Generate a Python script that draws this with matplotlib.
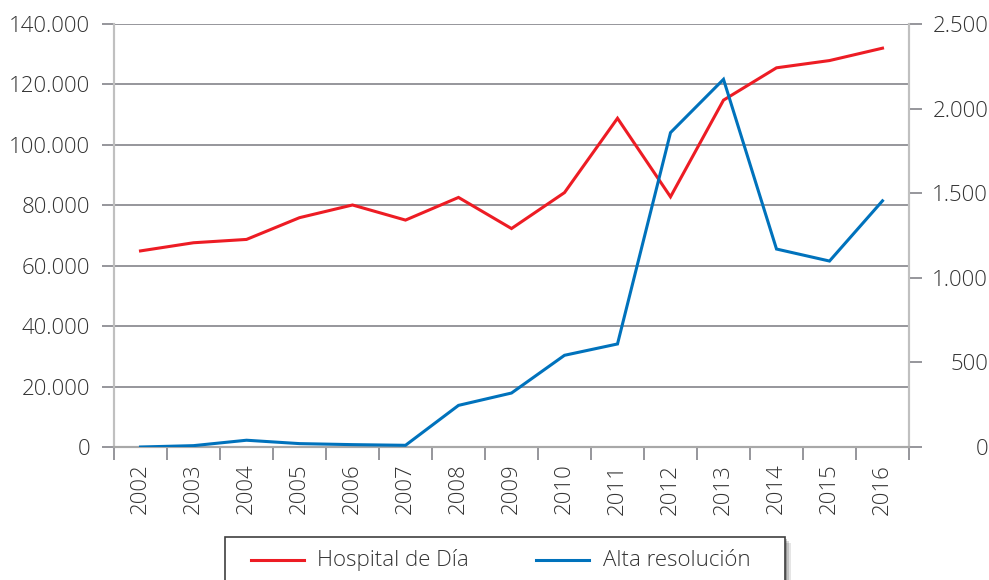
import matplotlib
matplotlib.use("Agg")
import matplotlib.pyplot as plt
from matplotlib.lines import Line2D
from matplotlib.patches import Rectangle
from matplotlib.ticker import FixedLocator, FuncFormatter, MultipleLocator

years = ["2002", "2003", "2004", "2005", "2006", "2007", "2008", "2009",
         "2010", "2011", "2012", "2013", "2014", "2015", "2016"]
hospital_dia = [64900, 67600, 68700, 75900, 80100, 75100, 82600, 72300,
                84200, 108800, 82800, 114800, 125500, 127900, 132000]
alta_resolucion = [0, 8, 40, 20, 14, 10, 246, 319,
                   542, 609, 1858, 2173, 1170, 1099, 1455]
series_names = ["Hospital de Día", "Alta resolución"]

RED = "#ED1C24"
BLUE = "#0072BC"
GRID = "#8E8E93"
SPINE = "#C0C0C0"
TEXT = "#333333"

plt.rcParams["font.family"] = ["Open Sans", "DejaVu Sans"]
plt.rcParams["font.weight"] = "light"
plt.rcParams["font.size"] = 16

W, H = 989, 580


def miles(v, _pos):
    return f"{v:,.0f}".replace(",", ".")


fig = plt.figure(figsize=(W / 100, H / 100), dpi=100)
ax = fig.add_axes([114 / W, 1 - 447 / H, 795 / W, 423 / H])
ax2 = ax.twinx()

x = list(range(len(years)))
ax.plot(x, hospital_dia, color=RED, linewidth=2.2, solid_joinstyle="miter", zorder=3)
ax2.plot(x, alta_resolucion, color=BLUE, linewidth=2.2, solid_joinstyle="miter", zorder=3)

ax.set_xlim(-0.5, len(years) - 0.5)
ax.set_ylim(0, 140000)
ax2.set_ylim(0, 2500)

# left axis
ax.yaxis.set_major_locator(MultipleLocator(20000))
ax.yaxis.set_major_formatter(FuncFormatter(miles))
ax.grid(axis="y", color=GRID, linewidth=1.3)
ax.set_axisbelow(True)
ax.tick_params(axis="y", length=9, width=1.3, color=GRID, pad=8, labelcolor=TEXT)

# right axis
ax2.yaxis.set_major_locator(MultipleLocator(500))
ax2.yaxis.set_major_formatter(FuncFormatter(miles))
ax2.tick_params(axis="y", length=9, width=1.3, color=GRID, pad=48, labelcolor=TEXT)
for lbl in ax2.get_yticklabels():
    lbl.set_horizontalalignment("right")

# x axis: ticks at category boundaries, labels at centres
ax.xaxis.set_major_locator(FixedLocator([i - 0.5 for i in range(len(years) + 1)]))
ax.xaxis.set_major_formatter(FuncFormatter(lambda v, p: ""))
ax.xaxis.set_minor_locator(FixedLocator(x))
ax.set_xticklabels(years, minor=True, rotation=90, color=TEXT)
ax.tick_params(axis="x", which="major", length=9, width=1.3, color=GRID)
ax.tick_params(axis="x", which="minor", length=0, pad=12)
for lbl in ax.get_xticklabels(minor=True):
    lbl.set_verticalalignment("top")

for a in (ax, ax2):
    a.spines["top"].set_visible(False)
    a.spines["left"].set_color(SPINE)
    a.spines["right"].set_color(SPINE)
    a.spines["bottom"].set_color("#A8A8A8")
    for s in a.spines.values():
        s.set_linewidth(1.5)

# legend box drawn by hand (wide, partly cut by the bottom edge)
def px(xp, yp):
    return xp / W, 1 - yp / H

bx0, by0 = px(225, 600)
bx1, by1 = px(785, 537)
for off, alpha in ((6, 0.10), (4, 0.15), (2, 0.22)):
    fig.add_artist(Rectangle((bx0 + off / W, by0 - off / H), bx1 - bx0, by1 - by0,
                             transform=fig.transFigure, facecolor="black",
                             edgecolor="none", alpha=alpha, zorder=4))
fig.add_artist(Rectangle((bx0, by0), bx1 - bx0, by1 - by0, transform=fig.transFigure,
                         facecolor="white", edgecolor="#404040", linewidth=1.2, zorder=5))

for name, color, (lx0, lx1, tx) in zip(series_names, [RED, BLUE],
                                      [(251, 304, 317), (536, 589, 603)]):
    xa, ya = px(lx0, 560)
    xb, _ = px(lx1, 560)
    fig.add_artist(Line2D([xa, xb], [ya, ya], transform=fig.transFigure,
                          color=color, linewidth=2.2, zorder=6))
    xt, _ = px(tx, 560)
    fig.text(xt, ya, name, ha="left", va="center", color=TEXT, fontsize=16, zorder=6)

fig.savefig("out.png", dpi=100)
